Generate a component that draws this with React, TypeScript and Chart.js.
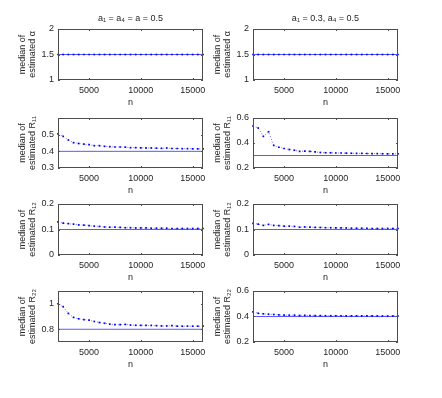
import React, { useEffect, useRef } from "react";
import { Chart, registerables } from "chart.js";

Chart.register(...registerables);

// ---------- data ----------
const nValues = [
  2000, 2500, 3000, 3500, 4000, 4500, 5000, 5500, 6000, 6500, 7000, 7500, 8000, 8500, 9000,
  9500, 10000, 10500, 11000, 11500, 12000, 12500, 13000, 13500, 14000, 14500, 15000, 15500, 16000,
];
const xTicks = [5000, 10000, 15000];

const alphaLeft = [
  1.5, 1.5, 1.5, 1.5, 1.5, 1.5, 1.5, 1.5, 1.5, 1.5, 1.5, 1.5, 1.5, 1.5, 1.5,
  1.5, 1.5, 1.5, 1.5, 1.5, 1.5, 1.5, 1.5, 1.5, 1.5, 1.5, 1.5, 1.5, 1.5,
];
const alphaRight = [
  1.5, 1.5, 1.5, 1.5, 1.5, 1.5, 1.5, 1.5, 1.5, 1.5, 1.5, 1.5, 1.5, 1.5, 1.5,
  1.5, 1.5, 1.5, 1.5, 1.5, 1.5, 1.5, 1.5, 1.5, 1.5, 1.5, 1.5, 1.5, 1.5,
];
const r11Left = [
  0.505, 0.49, 0.468, 0.452, 0.447, 0.443, 0.44, 0.434, 0.434, 0.43, 0.428, 0.426, 0.426, 0.425, 0.422,
  0.422, 0.421, 0.421, 0.42, 0.419, 0.418, 0.42, 0.417, 0.417, 0.416, 0.416, 0.415, 0.415, 0.415,
];
const r11Right = [
  0.536, 0.52, 0.453, 0.49, 0.381, 0.366, 0.356, 0.348, 0.342, 0.333, 0.335, 0.333, 0.329, 0.324, 0.322,
  0.322, 0.32, 0.32, 0.319, 0.318, 0.317, 0.317, 0.316, 0.315, 0.315, 0.314, 0.313, 0.313, 0.313,
];
const r12Left = [
  0.13, 0.125, 0.123, 0.121, 0.118, 0.117, 0.115, 0.113, 0.112, 0.11, 0.109, 0.109, 0.108, 0.107, 0.107,
  0.106, 0.106, 0.106, 0.105, 0.105, 0.105, 0.105, 0.104, 0.104, 0.104, 0.104, 0.104, 0.104, 0.104,
];
const r12Right = [
  0.124, 0.121, 0.116, 0.12, 0.116, 0.115, 0.113, 0.113, 0.112, 0.109, 0.11, 0.109, 0.108, 0.108, 0.107,
  0.107, 0.106, 0.106, 0.106, 0.105, 0.105, 0.105, 0.105, 0.104, 0.104, 0.104, 0.104, 0.104, 0.104,
];
const r22Left = [
  1.0, 0.977, 0.924, 0.893, 0.882, 0.876, 0.871, 0.861, 0.853, 0.847, 0.84, 0.837, 0.836, 0.838, 0.833,
  0.831, 0.831, 0.83, 0.83, 0.828, 0.826, 0.826, 0.828, 0.824, 0.824, 0.824, 0.824, 0.824, 0.825,
];
const r22Right = [
  0.437, 0.425, 0.421, 0.418, 0.416, 0.413, 0.411, 0.41, 0.41, 0.408, 0.409, 0.408, 0.407, 0.407, 0.406,
  0.406, 0.406, 0.406, 0.405, 0.405, 0.405, 0.405, 0.405, 0.405, 0.404, 0.404, 0.404, 0.404, 0.404,
];

const trueAlpha = 1.5;
const trueR11Left = 0.4;
const trueR11Right = 0.3;
const trueR12 = 0.1;
const trueR22Left = 0.8;
const trueR22Right = 0.4;

const alphaTicks = [1, 1.5, 2];
const r11LeftTicks = [0.3, 0.4, 0.5];
const r11RightTicks = [0.2, 0.4, 0.6];
const r12Ticks = [0, 0.1, 0.2];
const r22LeftTicks = [0.8, 1];
const r22RightTicks = [0.2, 0.4, 0.6];

const titleLeft = "a\u2081 = a\u2084 = a = 0.5";
const titleRight = "a\u2081 = 0.3, a\u2084 = 0.5";
const xLabel = "n";

// ---------- layout / style ----------
const FONT = "'Liberation Sans', Arial, Helvetica, sans-serif";
const TEXT = "#262626";
const COL_LEFT = [58, 253];
const ROW_TOP = [29, 118, 204, 291];
const ROW_H = [51, 50, 51, 51];
const BOX_W = 145;
const Y_AX_W = 52;
const X_AX_H = 30;
const PAD_R = 6;
const PAD_T = 6;

type PanelCfg = {
  series: number[];
  truth: number;
  yMin: number;
  yMax: number;
  yTicks: number[];
  yLabel: string[];
  title?: string;
  col: number;
  row: number;
};

const panels: PanelCfg[] = [
  { series: alphaLeft, truth: trueAlpha, yMin: 1, yMax: 2, yTicks: alphaTicks, yLabel: ["median of", "estimated \u03b1"], title: titleLeft, col: 0, row: 0 },
  { series: alphaRight, truth: trueAlpha, yMin: 1, yMax: 2, yTicks: alphaTicks, yLabel: ["median of", "estimated \u03b1"], title: titleRight, col: 1, row: 0 },
  { series: r11Left, truth: trueR11Left, yMin: 0.3, yMax: 0.6, yTicks: r11LeftTicks, yLabel: ["median of", "estimated R\u2081\u2081"], col: 0, row: 1 },
  { series: r11Right, truth: trueR11Right, yMin: 0.2, yMax: 0.6, yTicks: r11RightTicks, yLabel: ["median of", "estimated R\u2081\u2081"], col: 1, row: 1 },
  { series: r12Left, truth: trueR12, yMin: 0, yMax: 0.2, yTicks: r12Ticks, yLabel: ["median of", "estimated R\u2081\u2082"], col: 0, row: 2 },
  { series: r12Right, truth: trueR12, yMin: 0, yMax: 0.2, yTicks: r12Ticks, yLabel: ["median of", "estimated R\u2081\u2082"], col: 1, row: 2 },
  { series: r22Left, truth: trueR22Left, yMin: 0.7, yMax: 1.1, yTicks: r22LeftTicks, yLabel: ["median of", "estimated R\u2082\u2082"], col: 0, row: 3 },
  { series: r22Right, truth: trueR22Right, yMin: 0.2, yMax: 0.6, yTicks: r22RightTicks, yLabel: ["median of", "estimated R\u2082\u2082"], col: 1, row: 3 },
];

const boxPlugin = {
  id: "matlabBox",
  afterDatasetsDraw(chart: any) {
    const { ctx, chartArea: a, scales } = chart;
    ctx.save();
    ctx.strokeStyle = "#4d4d4d";
    ctx.lineWidth = 1;
    ctx.strokeRect(a.left + 0.5, a.top + 0.5, a.right - a.left - 1, a.bottom - a.top - 1);
    const tl = 2;
    ctx.beginPath();
    scales.x.ticks.forEach((t: any) => {
      const px = Math.round(scales.x.getPixelForValue(t.value)) + 0.5;
      ctx.moveTo(px, a.bottom);
      ctx.lineTo(px, a.bottom - tl);
      ctx.moveTo(px, a.top);
      ctx.lineTo(px, a.top + tl);
    });
    scales.y.ticks.forEach((t: any) => {
      const py = Math.round(scales.y.getPixelForValue(t.value)) + 0.5;
      ctx.moveTo(a.left, py);
      ctx.lineTo(a.left + tl, py);
      ctx.moveTo(a.right, py);
      ctx.lineTo(a.right - tl, py);
    });
    ctx.stroke();
    ctx.restore();
  },
};

function Panel({ cfg }: { cfg: PanelCfg }) {
  const ref = useRef<HTMLCanvasElement | null>(null);
  const boxL = COL_LEFT[cfg.col];
  const boxT = ROW_TOP[cfg.row];
  const boxH = ROW_H[cfg.row];
  const padTop = cfg.title ? boxT : PAD_T;
  const left = boxL - Y_AX_W;
  const top = boxT - padTop;
  const w = Y_AX_W + BOX_W + PAD_R;
  const h = padTop + boxH + X_AX_H;

  useEffect(() => {
    if (!ref.current) return;
    const font = { family: FONT, size: 9 };
    const chart = new Chart(ref.current, {
      type: "line",
      data: {
        datasets: [
          {
            data: nValues.map((n, i) => ({ x: n, y: cfg.series[i] })),
            borderColor: "rgba(70,70,255,0.75)",
            borderWidth: 1,
            borderDash: [1, 2],
            pointStyle: "rect",
            pointRadius: 1.2,
            pointBackgroundColor: "#0000f0",
            pointBorderWidth: 0,
            clip: false,
            tension: 0,
          } as any,
          {
            data: [
              { x: nValues[0], y: cfg.truth },
              { x: nValues[nValues.length - 1], y: cfg.truth },
            ],
            borderColor: "#5a5aff",
            borderWidth: 1,
            pointRadius: 0,
            tension: 0,
          } as any,
        ],
      },
      options: {
        animation: false,
        responsive: false,
        devicePixelRatio: 1,
        layout: { padding: { top: cfg.title ? 0 : PAD_T, right: PAD_R, left: 0, bottom: 0 } },
        plugins: {
          legend: { display: false },
          tooltip: { enabled: false },
          title: {
            display: !!cfg.title,
            text: cfg.title || "",
            color: TEXT,
            font: { family: FONT, size: 9, weight: "normal" },
            padding: { top: 13, bottom: boxT - 13 - 10.8 },
            fullSize: false,
          },
        },
        scales: {
          x: {
            type: "linear",
            min: nValues[0],
            max: nValues[nValues.length - 1],
            grid: { display: false, drawTicks: false },
            border: { display: false },
            afterBuildTicks: (s: any) => {
              s.ticks = xTicks.map((v) => ({ value: v }));
            },
            afterFit: (s: any) => {
              s.height = X_AX_H;
              s.paddingLeft = 0;
              s.paddingRight = 0;
            },
            ticks: {
              color: TEXT,
              font,
              padding: 5,
              maxRotation: 0,
              autoSkip: false,
              callback: (v: any) => String(v),
            },
            title: {
              display: true,
              text: xLabel,
              color: TEXT,
              font,
              padding: { top: 0, bottom: 2 },
            },
          },
          y: {
            type: "linear",
            min: cfg.yMin,
            max: cfg.yMax,
            grid: { display: false, drawTicks: false },
            border: { display: false },
            afterBuildTicks: (s: any) => {
              s.ticks = cfg.yTicks.map((v) => ({ value: v }));
            },
            afterFit: (s: any) => {
              s.width = Y_AX_W;
              s.paddingTop = 0;
              s.paddingBottom = 0;
            },
            ticks: {
              color: TEXT,
              font,
              padding: 4,
              autoSkip: false,
              callback: (v: any) => String(v),
            },
            title: {
              display: true,
              text: cfg.yLabel,
              color: TEXT,
              font,
              padding: { top: 10.8, bottom: 0 },
            },
          },
        },
      } as any,
      plugins: [boxPlugin],
    });
    return () => chart.destroy();
  }, []);

  return (
    <canvas
      ref={ref}
      width={w}
      height={h}
      style={{ position: "absolute", left, top, width: w, height: h }}
    />
  );
}

export default function App() {
  return (
    <div
      style={{
        position: "absolute",
        left: 0,
        top: 0,
        width: 442,
        height: 398,
        background: "#ffffff",
        overflow: "hidden",
      }}
    >
      {panels.map((p, i) => (
        <Panel key={i} cfg={p} />
      ))}
    </div>
  );
}
